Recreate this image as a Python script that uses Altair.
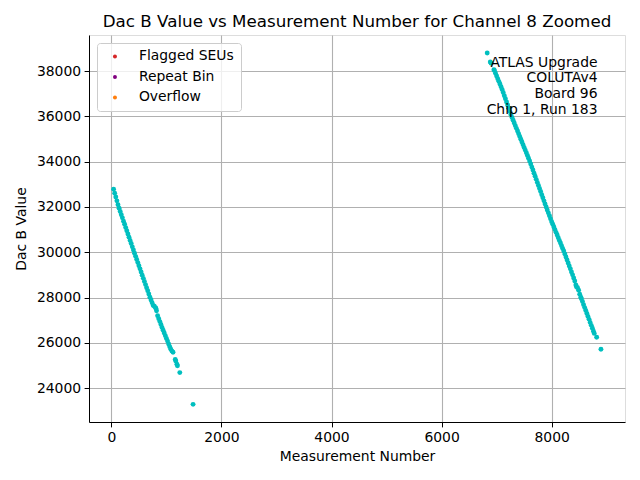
import altair as alt
import pandas as pd

# Segment 1 (measurement number, Dac B value)
seg1_x = [40, 60, 80, 100, 120, 140, 160, 180, 200, 220, 240, 260, 280, 300, 320, 340, 360, 380, 400,
          420, 440, 460, 480, 500, 520, 540, 560, 580, 600, 620, 640, 660, 680, 700, 720, 740, 760, 780,
          800, 810, 820, 840, 860, 880, 900, 920, 940, 960, 980, 1000, 1020, 1040, 1060, 1080, 1100, 1120,
          1160, 1170, 1190, 1200, 1243, 1484]
seg1_y = [32780, 32610, 32440, 32270, 32100, 31945, 31800, 31660, 31520, 31375, 31235, 31090, 30950, 30810,
          30665, 30525, 30385, 30240, 30100, 29960, 29820, 29680, 29545, 29405, 29270, 29130, 28990, 28850,
          28715, 28575, 28435, 28300, 28160, 28020, 27895, 27775, 27655, 27620, 27560, 27520, 27420, 27200,
          27070, 26940, 26810, 26685, 26560, 26440, 26320, 26200, 26080, 25950, 25830, 25720, 25640, 25590,
          25270, 25200, 25060, 24990, 24690, 23290]

# Segment 2
seg2_x = [6829, 6885, 6900, 6951, 6960, 6980, 7000, 7020, 7040, 7060, 7080, 7100, 7120, 7140, 7160, 7180,
          7200, 7220, 7240, 7260, 7280, 7300, 7320, 7340, 7360, 7380, 7400, 7420, 7440, 7460, 7480, 7500,
          7520, 7540, 7560, 7580, 7600, 7620, 7640, 7660, 7680, 7700, 7720, 7740, 7760, 7780, 7800, 7820,
          7840, 7860, 7880, 7900, 7920, 7940, 7960, 7980, 8000, 8020, 8040, 8060, 8080, 8100, 8120, 8140,
          8160, 8180, 8200, 8220, 8240, 8260, 8280, 8300, 8320, 8340, 8360, 8380, 8400, 8420, 8440, 8450,
          8470, 8490, 8510, 8530, 8540, 8560, 8580, 8600, 8620, 8640, 8660, 8680, 8700, 8720, 8740, 8760,
          8775, 8818, 8896]
seg2_y = [38795, 38400, 38340, 38060, 38020, 37900, 37780, 37660, 37545, 37425, 37305, 37185, 37050, 36910,
          36775, 36635, 36500, 36360, 36220, 36085, 35950, 35830, 35710, 35590, 35470, 35350, 35230, 35110,
          34990, 34870, 34750, 34630, 34510, 34390, 34270, 34150, 34030, 33900, 33760, 33630, 33490, 33355,
          33220, 33085, 32950, 32815, 32680, 32540, 32405, 32270, 32135, 32000, 31870, 31740, 31610, 31480,
          31350, 31235, 31115, 31000, 30880, 30760, 30645, 30525, 30410, 30290, 30170, 30055, 29930, 29795,
          29665, 29530, 29400, 29270, 29135, 29005, 28870, 28730, 28560, 28480, 28440, 28330, 28150, 28020,
          27955, 27825, 27690, 27560, 27430, 27300, 27170, 27040, 26905, 26775, 26645, 26515, 26420, 26250,
          25720]

legend_labels = ["Flagged SEUs", "Repeat Bin", "Overflow"]
legend_colors = ["#d62728", "#800080", "#ff7f0e"]

x_ticks = [0, 2000, 4000, 6000, 8000]
y_ticks = [24000, 26000, 28000, 30000, 32000, 34000, 36000, 38000]

title_text = "Dac B Value vs Measurement Number for Channel 8 Zoomed"
annotation = ["ATLAS Upgrade", "COLUTAv4\u00a0", "Board 96", "Chip 1, Run 183"]

FONT = "DejaVu Sans"

df = pd.DataFrame({"x": seg1_x + seg2_x, "y": seg1_y + seg2_y})
leg_df = pd.DataFrame({"cat": legend_labels, "x": [4000] * 3, "y": [30000] * 3})

xscale = alt.Scale(domain=[-407, 9333], nice=False, zero=False)
yscale = alt.Scale(domain=[22510, 39590], nice=False, zero=False)

xaxis = alt.Axis(values=x_ticks, format="d", title="Measurement Number", labelFontSize=13.9,
                 titleFontSize=13.9, titleFontWeight="normal", labelFont=FONT, titleFont=FONT,
                 tickSize=4.9, labelPadding=3.5, titlePadding=5, grid=True, gridColor="#b0b0b0",
                 gridWidth=1.1, domainColor="black", tickColor="black", labelColor="black",
                 titleColor="black", labelFlush=False)
yaxis = alt.Axis(values=y_ticks, format="d", title="Dac B Value", labelFontSize=13.9,
                 titleFontSize=13.9, titleFontWeight="normal", labelFont=FONT, titleFont=FONT,
                 tickSize=4.9, labelPadding=3.5, titlePadding=8, grid=True, gridColor="#b0b0b0",
                 gridWidth=1.1, domainColor="black", tickColor="black", labelColor="black",
                 titleColor="black", labelFlush=False)

points = alt.Chart(df).mark_circle(size=24, opacity=1, color="#00bfbf").encode(
    x=alt.X("x:Q", scale=xscale, axis=xaxis),
    y=alt.Y("y:Q", scale=yscale, axis=yaxis),
)

legend_layer = alt.Chart(leg_df).mark_circle(size=16, opacity=0).encode(
    x=alt.X("x:Q", scale=xscale),
    y=alt.Y("y:Q", scale=yscale),
    color=alt.Color("cat:N", scale=alt.Scale(domain=legend_labels, range=legend_colors),
                    legend=alt.Legend(orient="none", legendX=8, legendY=8, title=None,
                                      padding=6.5, symbolOffset=4.5, labelOffset=17,
                                      rowPadding=5.5, fillColor="rgba(255,255,255,0.8)",
                                      strokeColor="#cccccc", cornerRadius=3,
                                      labelFontSize=13.9, labelFont=FONT, labelColor="black",
                                      symbolType="circle", symbolSize=16, symbolStrokeWidth=0,
                                      symbolOpacity=1)),
)

text = alt.Chart(pd.DataFrame({"a": [0]})).mark_text(
    align="right", baseline="alphabetic", font=FONT, fontSize=13.9, lineHeight=15.8, color="black"
).encode(x=alt.value(508.5), y=alt.value(31.5), text=alt.value(annotation))

title = alt.Chart(pd.DataFrame({"a": [0]})).mark_text(
    align="center", baseline="alphabetic", font=FONT, fontSize=16.7, color="black"
).encode(x=alt.value(268), y=alt.value(-8), text=alt.value(title_text))

chart = alt.layer(points, legend_layer, text, title).properties(
    width=536, height=387,
    autosize=alt.AutoSizeParams(type="none"),
    padding={"left": 81, "top": 27, "right": 7, "bottom": 50},
).configure_view(stroke="black", strokeWidth=1.1).configure(background="white")

chart.save("out.html", embed_options={"renderer": "svg", "actions": False})
